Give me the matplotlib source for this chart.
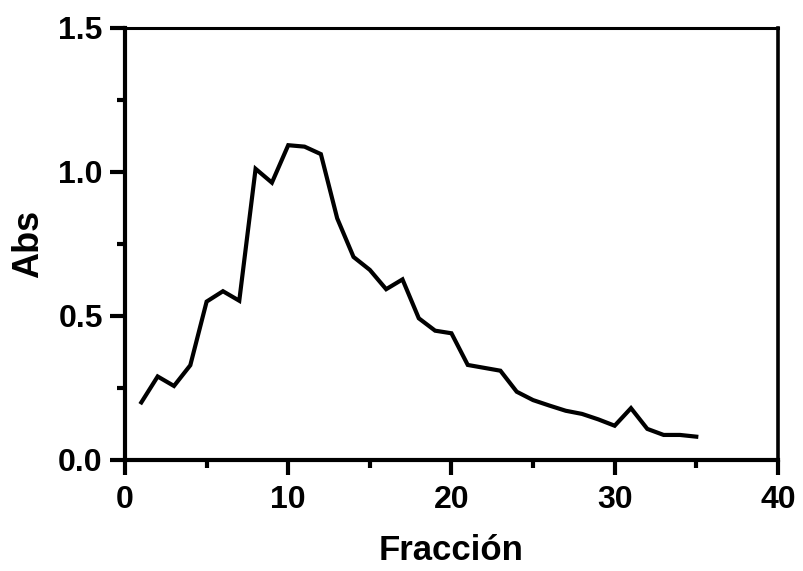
import matplotlib
matplotlib.use('Agg')
import matplotlib.pyplot as plt
from matplotlib.ticker import MultipleLocator

# datos
fraccion = list(range(1, 36))
absorbancia = [0.20, 0.29, 0.257, 0.329, 0.55, 0.586, 0.553, 1.011, 0.963, 1.093,
               1.088, 1.062, 0.839, 0.705, 0.66, 0.593, 0.627, 0.492, 0.449, 0.44,
               0.33, 0.32, 0.31, 0.237, 0.208, 0.189, 0.171, 0.16, 0.141, 0.119,
               0.18, 0.108, 0.087, 0.087, 0.081]

x_ticks = [0, 10, 20, 30, 40]
y_ticks = [0.0, 0.5, 1.0, 1.5]
y_ticklabels = ['0.0', '0.5', '1.0', '1.5']

plt.rcParams['font.family'] = ['Liberation Sans', 'DejaVu Sans']
plt.rcParams['font.weight'] = 'bold'

fig = plt.figure(figsize=(8.04, 5.71), dpi=100)
ax = fig.add_axes([0.1555, 0.1944, 0.812, 0.7566])

ax.plot(fraccion, absorbancia, color='black', lw=3, solid_joinstyle='miter')

ax.set_xlim(0, 40)
ax.set_ylim(0, 1.5)
ax.set_xticks(x_ticks)
ax.set_yticks(y_ticks)
ax.set_yticklabels(y_ticklabels)
ax.xaxis.set_minor_locator(MultipleLocator(5))
ax.yaxis.set_minor_locator(MultipleLocator(0.25))

for s in ax.spines.values():
    s.set_linewidth(3)
ax.spines['top'].set_linewidth(2.2)
ax.spines['right'].set_linewidth(2.6)

ax.tick_params(which='major', direction='out', length=11, width=3,
               top=False, right=False)
ax.tick_params(which='minor', direction='out', length=6, width=3,
               top=False, right=False)
ax.tick_params(axis='y', which='major', labelsize=23, pad=5)
ax.tick_params(axis='x', which='major', labelsize=23, pad=7)

ax.set_xlabel('Fracción', fontsize=25, fontweight='bold', labelpad=14)
ax.set_ylabel('Abs', fontsize=26, fontweight='bold', labelpad=9)

fig.savefig('out.png', dpi=100)
